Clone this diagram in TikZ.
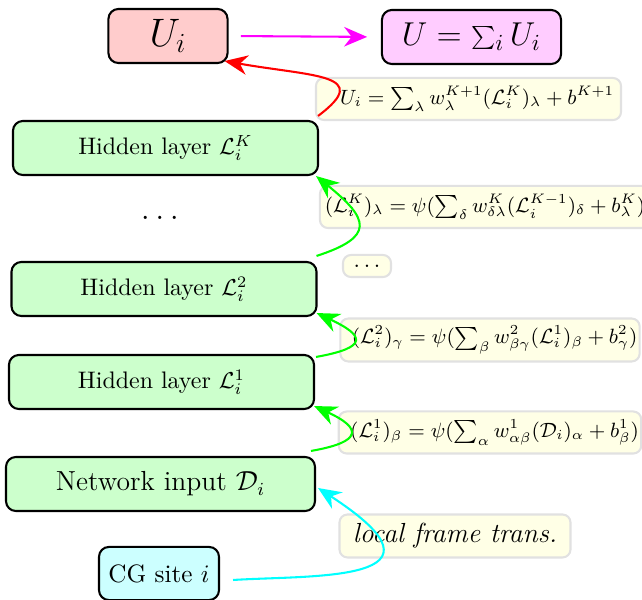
\documentclass[tikz,border=0pt]{standalone}
\usetikzlibrary{arrows.meta}
\definecolor{mag}{RGB}{255,0,255}
\definecolor{cya}{RGB}{0,255,255}
\definecolor{grn}{RGB}{0,255,0}
\definecolor{labfill}{RGB}{255,255,230}
\definecolor{labdraw}{RGB}{225,225,225}
\begin{document}
\begin{tikzpicture}[x=0.435pt,y=0.435pt,
  box/.style={draw=black, line width=0.9pt, rounded corners=4.3pt, inner sep=2pt, minimum height=23.5pt},
  hid/.style={box, fill=green!20, minimum width=132.7pt, font=\fontsize{10.4}{12.5}\selectfont},
  lab/.style={draw=labdraw, line width=0.9pt, fill=labfill, rounded corners=3.5pt, inner sep=1pt, minimum height=18.3pt, font=\small},
  arr/.style={line width=0.9pt, -{Stealth[length=10pt,width=8.5pt]}},
]
\useasboundingbox (0,0) rectangle (642,-600);
% labels
\node[lab, minimum width=132.7pt] (l1) at (468.5,-99) {\hspace{7.5pt}$U_i = \sum_\lambda w_\lambda^{K+1}(\mathcal{L}_i^K)_\lambda + b^{K+1}$};
\node[lab, minimum width=143.6pt] (l2) at (485,-207) {$(\mathcal{L}_i^K)_\lambda = \psi(\sum_\delta w_{\delta\lambda}^K(\mathcal{L}_i^{K-1})_\delta + b_\lambda^K)$};
\node[lab, minimum width=20.9pt, minimum height=9.6pt, font=\normalsize] (l0) at (367,-266) {$\ldots$};
\node[lab, minimum width=126.2pt, minimum height=18.7pt] (l3) at (490,-340) {\hspace{4pt}$(\mathcal{L}_i^2)_\gamma = \psi(\sum_\beta w_{\beta\gamma}^2(\mathcal{L}_i^1)_\beta + b_\gamma^2)$};
\node[lab, minimum width=127pt] (l4) at (490,-432.5) {\hspace{4pt}$(\mathcal{L}_i^1)_\beta = \psi(\sum_\alpha w_{\alpha\beta}^1(\mathcal{D}_i)_\alpha + b_\beta^1)$};
\node[lab, minimum width=100.5pt, minimum height=18.7pt, font=\large] (l5) at (455,-536) {\itshape local frame trans.};
% nodes
\node[box, fill=red!20, minimum width=51.8pt] (Ui) at (168,-36) {\LARGE$U_i$};
\node[box, fill=mag!20, minimum width=77.9pt] (Us) at (471.5,-37) {\Large$U = \sum_i U_i$};
\node[hid] (hK) at (165.5,-148) {Hidden layer $\mathcal{L}_i^K$};
\node (dots) at (160,-218) {\Large$\ldots$};
\node[hid] (h2) at (164,-289) {Hidden layer $\mathcal{L}_i^2$};
\node[hid] (h1) at (161.5,-382) {Hidden layer $\mathcal{L}_i^1$};
\node[hid, minimum width=134.4pt, font=\large] (net) at (160.5,-484) {Network input $\mathcal{D}_i$};
\node[box, fill=cya!20, minimum width=52.2pt, minimum height=23.1pt, font=\fontsize{10.95}{13}\selectfont] (cg) at (159,-573.5) {CG site $i$};
% connectors
\draw[arr, mag, shorten <=5.4pt, shorten >=6pt] (Ui.east) -- (Us.west);
\draw[arr, red] ([shift={(-1,4)}]hK.north east) .. controls +(56,42) and +(88.6,-15.6) .. ([shift={(-4,3)}]Ui.south east);
\draw[arr, grn] ([shift={(-1,5)}]h2.north east) .. controls +(58.8,19.1) and +(53.2,-43.1) .. ([shift={(-3,0)}]hK.south east);
\draw[arr, grn] ([shift={(1,-3)}]h1.north east) .. controls +(53,9.4) and +(48.4,-22.6) .. ([shift={(-1,4)}]h2.south east);
\draw[arr, grn] ([shift={(-5,5)}]net.north east) .. controls +(52,9) and +(48,-22) .. ([shift={(-1,4)}]h1.south east);
\draw[arr, cya] ([shift={(13,-6.5)}]cg.east) .. controls +(79.8,5.1) and +(146.8,-95.4) .. ([shift={(2,-4)}]net.east);
\end{tikzpicture}
\end{document}
